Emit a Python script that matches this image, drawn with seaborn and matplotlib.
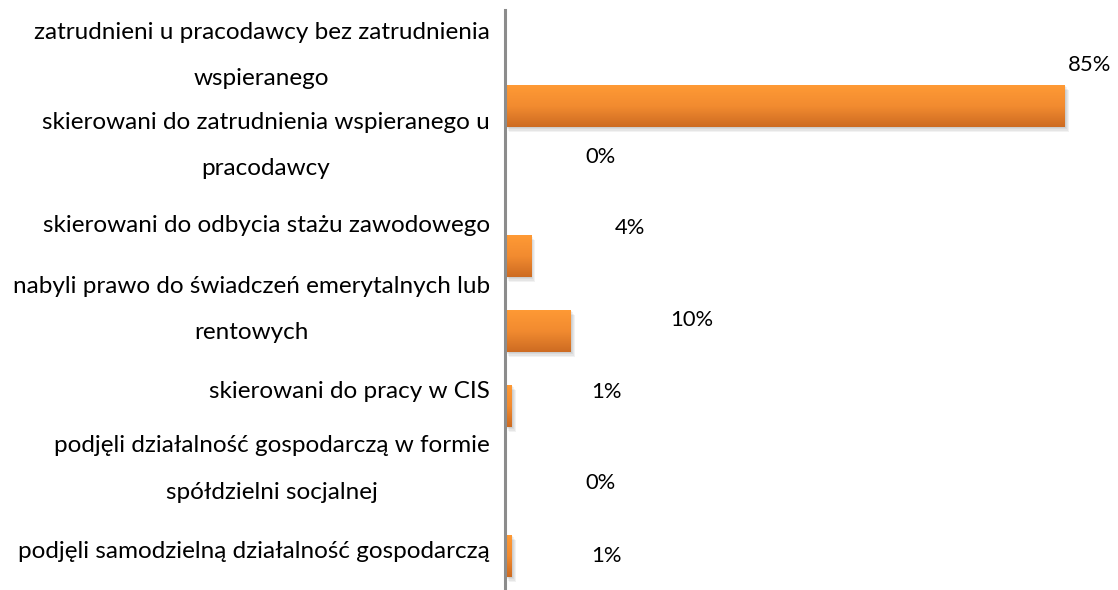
import textwrap
import numpy as np
import pandas as pd
import matplotlib
matplotlib.use("Agg")
import matplotlib.pyplot as plt
import seaborn as sns
from matplotlib.colors import LinearSegmentedColormap
from matplotlib.patches import Rectangle
from matplotlib.transforms import ScaledTranslation

# ---- data ----
categories = [
    "zatrudnieni u pracodawcy bez zatrudnienia wspieranego",
    "skierowani do zatrudnienia wspieranego u pracodawcy",
    "skierowani do odbycia stażu zawodowego",
    "nabyli prawo do świadczeń emerytalnych lub rentowych",
    "skierowani do pracy w CIS",
    "podjęli działalność gospodarczą w formie spółdzielni socjalnej",
    "podjęli samodzielną działalność gospodarczą",
]
values = [85, 0, 4, 10, 1, 0, 1]
value_labels = ["85%", "0%", "4%", "10%", "1%", "0%", "1%"]

# ---- style / layout ----
W, H, DPI = 1118, 590, 100
FONT = ["Lato", "DejaVu Sans"]
FS_CAT = 17.5
FS_VAL = 15.8
top_col, bot_col = "#FF9A35", "#CD6B22"
# value-label offsets in pixels (dx, dy downwards) relative to bar end / bar centre
lab_off = [(3, -41), (80, -24), (83, -28), (99, -11), (80, -14), (80, 2), (80, 0)]
# vertical pixel centres of the category labels
label_px = [55.5, 145.5, 225, 309.5, 392, 469, 552]

sns.set_theme(style="white")
plt.rcParams["font.family"] = FONT

df = pd.DataFrame({"cat": categories, "val": values})

fig = plt.figure(figsize=(W / DPI, H / DPI), dpi=DPI)
ax = fig.add_axes([505 / W, 0, 1 - 505 / W, 1 - 10 / H])

sns.barplot(data=df, x="val", y="cat", orient="h", width=0.56,
            color=top_col, ax=ax, zorder=2)

xmax = (W - 505) / (560 / 85)
ymin_d = (10 - 106) / 75
ymax_d = (590 - 106) / 75

cmap = LinearSegmentedColormap.from_list("g", [top_col, "#F28B30", bot_col])
grad = np.linspace(0, 1, 256).reshape(-1, 1)
for p in list(ax.patches):
    x0, y0, w, h = p.get_x(), p.get_y(), p.get_width(), p.get_height()
    p.set_edgecolor("none")
    if w <= 0:
        continue
    for k in range(1, 5):
        off = ScaledTranslation(1.0 * k / DPI, -1.2 * k / DPI, fig.dpi_scale_trans)
        ax.add_patch(Rectangle((x0, y0), w, h, transform=ax.transData + off,
                               facecolor="#000000", alpha=0.05, edgecolor="none",
                               zorder=1))
    im = ax.imshow(grad, cmap=cmap, aspect="auto", interpolation="bilinear",
                   extent=[x0, x0 + w, y0 + h, y0], zorder=2)
    im.set_clip_path(p)
    p.set_facecolor("none")

ax.set_xlim(0, xmax)
ax.set_ylim(ymax_d, ymin_d)

# category labels
ticks = [(y - 106) / 75 for y in label_px]
wrapped = [textwrap.fill(c, 43) for c in categories]
ax.set_yticks(ticks, labels=wrapped)
for t in ax.get_yticklabels():
    t.set_multialignment("center")
    t.set_verticalalignment("center")
    t.set_linespacing(2.48)
    t.set_fontsize(FS_CAT)
    t.set_color("#000000")
    t.set_fontfamily(FONT)
ax.tick_params(axis="y", length=0, pad=11)
ax.set_xticks([])
ax.set_xlabel("")
ax.set_ylabel("")

for s in ["top", "right", "bottom"]:
    ax.spines[s].set_visible(False)
ax.spines["left"].set_color("#8C8C8C")
ax.spines["left"].set_linewidth(2.2)
ax.spines["left"].set_zorder(3)

for i, (v, lab) in enumerate(zip(values, value_labels)):
    dx, dy = lab_off[i]
    ax.annotate(lab, xy=(v, i), xytext=(dx, -dy), textcoords="offset pixels",
                ha="left", va="center", fontsize=FS_VAL, color="#000000",
                family=FONT)

fig.savefig("out.png", dpi=DPI)
